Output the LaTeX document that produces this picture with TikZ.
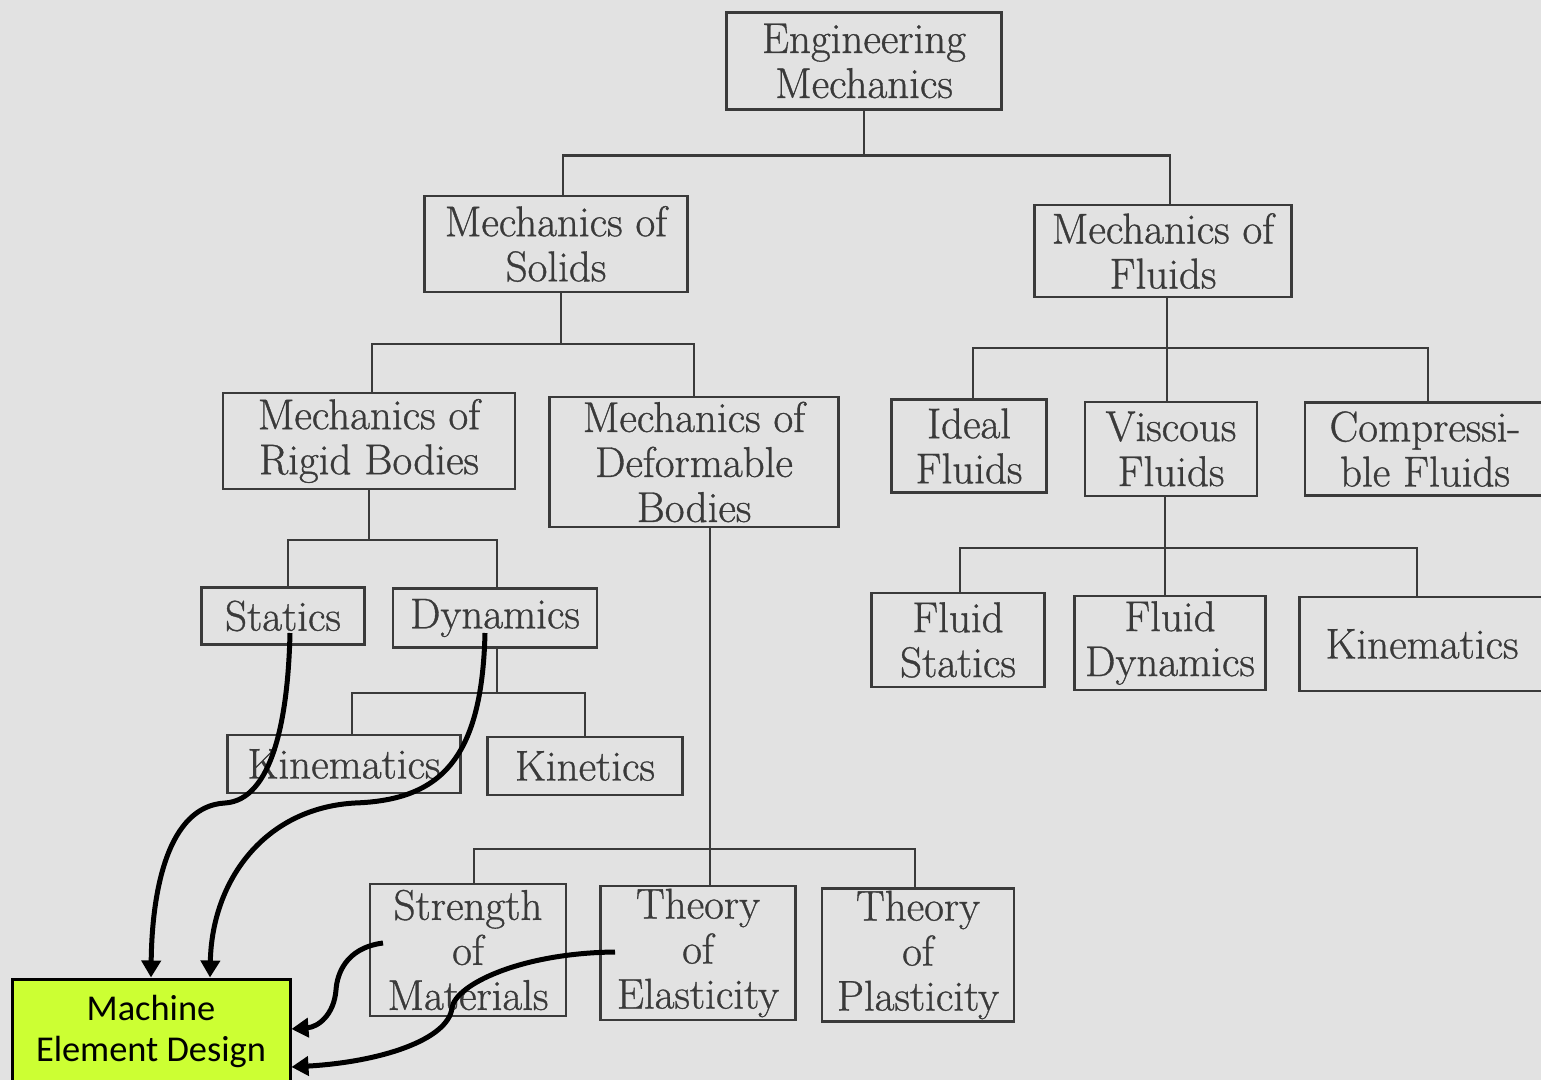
\documentclass[tikz,border=0pt]{standalone}
\usepackage{fontspec}
\newfontfamily\calib{Carlito}
\newfontfamily\scan{Latin Modern Roman}[FakeBold=0.8]
\usetikzlibrary{arrows.meta}
\definecolor{bg}{RGB}{226,226,226}
\definecolor{ink}{RGB}{58,58,58}
\definecolor{lime}{RGB}{204,255,51}
\begin{document}
\begin{tikzpicture}[x=0.5pt,y=-0.5pt,
  box/.style={draw=ink, line width=1.1pt, text=ink, inner sep=0pt, align=center,
    font=\scan\fontsize{21.5}{22.5}\selectfont},
  tree/.style={draw=ink, line width=1.1pt},
  flow/.style={draw=black, line width=2.5pt, -{Triangle[length=8.5pt,width=9.5pt]}}]
\fill[bg] (0,0) rectangle (1541,1080);
\useasboundingbox (0,0) rectangle (1541,1080);

% level 0/1
\node[box, minimum width=137.5pt, minimum height=48.5pt] (em) at (864,61) {Engineering\\Mechanics};
\node[box, minimum width=131.5pt, minimum height=48pt] (mos) at (556,244) {Mechanics of\\Solids};
\node[box, minimum width=128.5pt, minimum height=46pt] (mof) at (1163,251) {Mechanics of\\Fluids};
% level 2
\node[box, minimum width=146pt, minimum height=48pt] (rig) at (369,441) {Mechanics of\\Rigid Bodies};
\node[box, minimum width=144.5pt, minimum height=65pt] (def) at (694,462) {Mechanics of\\Deformable\\Bodies};
\node[box, minimum width=77.5pt, minimum height=46.5pt] (ideal) at (969,446) {Ideal\\Fluids};
\node[box, minimum width=86pt, minimum height=47pt] (visc) at (1171,449) {Viscous\\Fluids};
\node[box, minimum width=120pt, minimum height=46.5pt] (comp) at (1425,449) {Compressi-\\ble Fluids};
% level 3
\node[box, minimum width=81.5pt, minimum height=28.5pt] (stat) at (283,616) {Statics};
\node[box, minimum width=102pt, minimum height=29.5pt] (dyn) at (495,618) {Dynamics};
\node[box, minimum width=86.5pt, minimum height=47pt] (fstat) at (958,640) {Fluid\\Statics};
\node[box, minimum width=95.5pt, minimum height=47pt] (fdyn) at (1170,643) {Fluid\\Dynamics};
\node[box, minimum width=122.5pt, minimum height=47pt] (kin2) at (1422,644) {Kinematics};
% level 4
\node[box, minimum width=116.5pt, minimum height=29pt] (kin1) at (344,764) {Kinematics};
\node[box, minimum width=97.5pt, minimum height=29pt] (kinet) at (585,766) {Kinetics};
\node[box, minimum width=98pt, minimum height=66pt] (str) at (468,950) {Strength\\of\\Materials};
\node[box, minimum width=97.5pt, minimum height=67pt] (ela) at (698,953) {Theory\\of\\Elasticity};
\node[box, minimum width=96pt, minimum height=66.5pt] (pla) at (918,955) {Theory\\of\\Plasticity};

% tree connectors
\draw[tree] (em.south) -- ++(0,45) -| ([xshift=3.5pt]mos.north);
\draw[tree] (em.south) -- ++(0,45) -| ([xshift=3.5pt]mof.north);
\draw[tree] ([xshift=2.5pt]mos.south) -- ++(0,51) -| ([xshift=1.5pt]rig.north);
\draw[tree] ([xshift=2.5pt]mos.south) -- ++(0,51) -| (def.north);
\draw[tree] ([xshift=2pt]mof.south) -- ++(0,50) -| ([xshift=2pt]ideal.north);
\draw[tree] ([xshift=2pt]mof.south) -- ++(0,50) -| ([xshift=-2pt]visc.north);
\draw[tree] ([xshift=2pt]mof.south) -- ++(0,50) -| ([xshift=1.5pt]comp.north);
\draw[tree] (rig.south) -- ++(0,50) -| ([xshift=2.5pt]stat.north);
\draw[tree] (rig.south) -- ++(0,50) -| ([xshift=1pt]dyn.north);
\draw[tree] ([xshift=1pt]dyn.south) -- ++(0,44) -| ([xshift=4pt]kin1.north);
\draw[tree] ([xshift=1pt]dyn.south) -- ++(0,44) -| (kinet.north);
\draw[tree] ([xshift=-3pt]visc.south) -- ++(0,51) -| ([xshift=1pt]fstat.north);
\draw[tree] ([xshift=-3pt]visc.south) -- ++(0,51) -| ([xshift=-2.5pt]fdyn.north);
\draw[tree] ([xshift=-3pt]visc.south) -- ++(0,51) -| ([xshift=-2.5pt]kin2.north);
\draw[tree] ([xshift=8pt]def.south) -- ++(0,321) -| ([xshift=3pt]str.north);
\draw[tree] ([xshift=8pt]def.south) -- ++(0,321) -| ([xshift=6pt]ela.north);
\draw[tree] ([xshift=8pt]def.south) -- ++(0,321) -| ([xshift=-1.5pt]pla.north);

% target
\node[draw=black, line width=1.5pt, fill=lime, minimum width=139pt, minimum height=52pt,
  inner sep=0pt, align=center, font=\calib\fontsize{18.2}{20.5}\selectfont] (med) at (151,1031)
  {Machine\\Element Design};

% flow arrows
\draw[flow] ([shift={(7,17)}]stat.center) .. controls (288,720) and (272,800) .. (225,803)
  .. controls (168,806) and (152,890) .. (med.north);
\draw[flow] ([shift={(-10,15)}]dyn.center) .. controls (482,760) and (440,800) .. (355,803)
  .. controls (265,808) and (212,880) .. ([xshift=29.5pt]med.north);
\draw[flow] ([shift={(-85,-7)}]str.center) .. controls (345,948) and (337,975) .. (336,990)
  .. controls (334,1015) and (318,1027) .. ([yshift=1pt]med.east);
\draw[flow] ([shift={(-83,-1)}]ela.center) .. controls (520,953) and (455,985) .. (452,1008)
  .. controls (448,1040) and (380,1062) .. ([yshift=-18pt]med.east);
\end{tikzpicture}
\end{document}
